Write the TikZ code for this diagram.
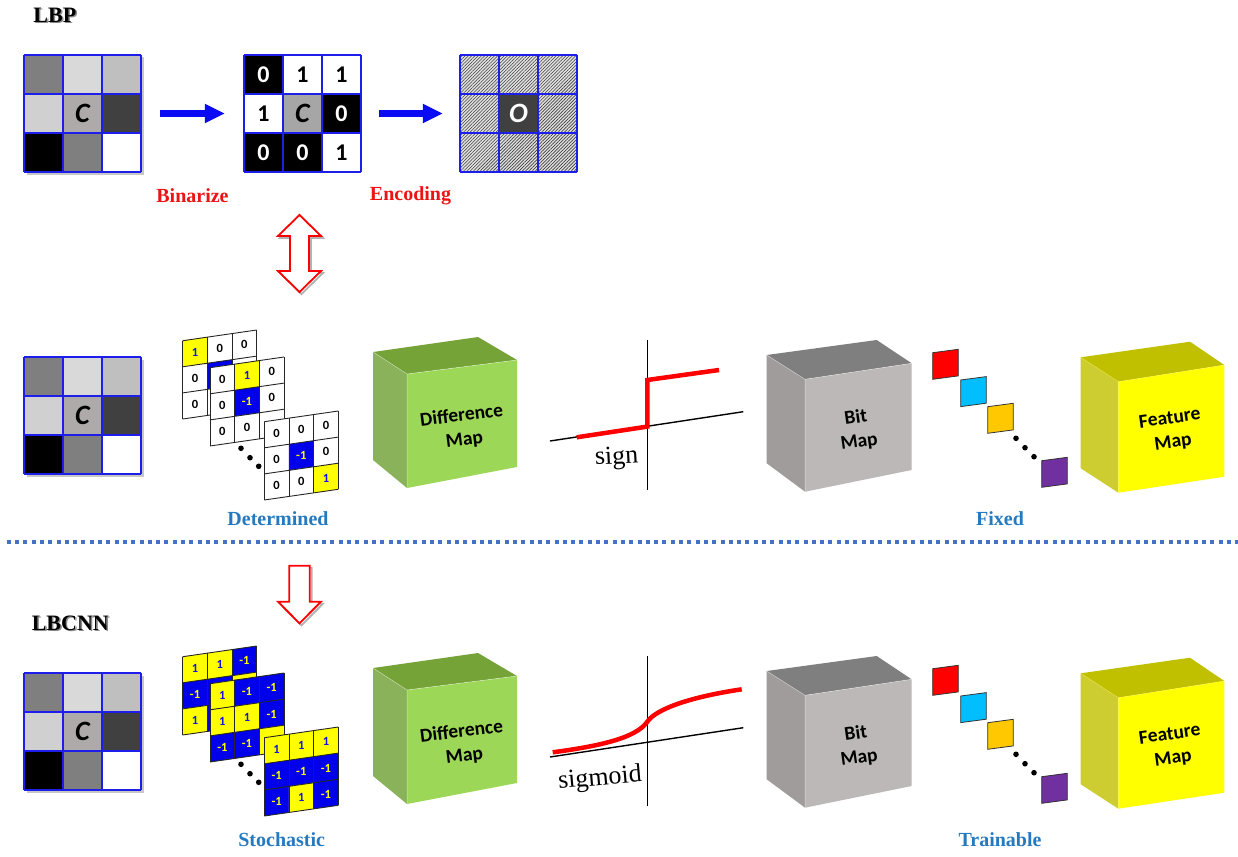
\documentclass[tikz,border=0pt]{standalone}
\usepackage{fontspec}
\setmainfont{Liberation Serif}
\newfontfamily\calfont{Carlito}
\usetikzlibrary{arrows.meta,patterns.meta}

% grey levels of the 3x3 input patch
\definecolor{ga}{RGB}{127,127,127}
\definecolor{gb}{RGB}{217,217,217}
\definecolor{gc}{RGB}{191,191,191}
\definecolor{gd}{RGB}{208,208,208}
\definecolor{ge}{RGB}{174,170,170}
\definecolor{gf}{RGB}{64,64,64}
\definecolor{gg}{RGB}{0,0,0}
\definecolor{gh}{RGB}{127,127,127}
\definecolor{gi}{RGB}{255,255,255}
\definecolor{gridblue}{RGB}{30,30,235}
\definecolor{arrowblue}{RGB}{10,10,245}
\definecolor{lblblue}{RGB}{37,121,191}
\definecolor{lblred}{RGB}{235,20,20}
\definecolor{dotblue}{RGB}{68,114,196}
% filter cells: z = 0, p = +1, m = -1
\definecolor{fcz}{RGB}{255,255,255}
\definecolor{fcp}{RGB}{255,255,0}
\definecolor{fcm}{RGB}{0,0,235}
\definecolor{tcz}{RGB}{0,0,0}
\definecolor{tcp}{RGB}{20,20,220}
\definecolor{tcm}{RGB}{255,255,0}
% cube faces
\definecolor{dfront}{RGB}{156,215,87}
\definecolor{dtop}{RGB}{118,163,55}
\definecolor{dside}{RGB}{137,178,90}
\definecolor{bfront}{RGB}{188,184,183}
\definecolor{btop}{RGB}{127,127,127}
\definecolor{bside}{RGB}{160,156,155}
\definecolor{ffront}{RGB}{255,255,0}
\definecolor{ftop}{RGB}{192,192,0}
\definecolor{fside}{RGB}{205,205,50}
\definecolor{sqred}{RGB}{255,0,0}
\definecolor{sqcyan}{RGB}{0,190,255}
\definecolor{sqorange}{RGB}{255,200,0}
\definecolor{sqpurple}{RGB}{112,48,160}

% 3x3 grey input patch with centre pixel C
\newcommand{\inputgrid}[3]{%
  \fill[black!22] (#2+2.5,#3+2.5) rectangle ++(117,117);
  \foreach \i/\j/\f in {0/0/ga,1/0/gb,2/0/gc,0/1/gd,1/1/ge,2/1/gf,0/2/gg,1/2/gh,2/2/gi}
    \fill[fill=\f] (#2+39*\i,#3+39*\j) rectangle ++(39,39);
  \foreach \q in {0,1,2,3} {
    \draw[gridline] (#2+39*\q,#3) -- ++(0,117);
    \draw[gridline] (#2,#3+39*\q) -- ++(117,0);}
  \node[cellc] at (#2+58.5,#3+58.5) {C};
  \node[patch] (#1) at (#2+58.5,#3+58.5) {};
}

% slanted 3x3 filter; entries are col/row/kind/text (empty text for hidden cells)
\newcommand{\filtergrid}[3]{%
  \begin{scope}[shift={#1}, yslant=0.1446]
    \foreach \i/\j/\k/\t in {#3} {
      \fill[fill=fc\k] (\i*24.67,\j*26.1) rectangle ++(24.67,26.1);
      \node[celln, text=tc\k] at (\i*24.67+12.33,\j*26.1+13.05) {\t};
    }
    \foreach \q in {0,1,2,3} {
      \draw[flt] (\q*24.67,0) -- ++(0,78.3);
      \draw[flt] (0,\q*26.1) -- ++(74,0);}
    \coordinate (#2) at (37,39.15);
  \end{scope}}

% one row of the pipeline: input, filters, difference map, activation axes,
% bit map, weights and feature map
\newcommand{\pipeline}[4]{%
  \inputgrid{#1in}{24}{357}
  \filtergrid{(182.7,340.7)}{#1fa}{#2}
  \filtergrid{(210,367.7)}{#1fb}{#3}
  \filtergrid{(264.3,421.7)}{#1fc}{#4}
  \foreach \x/\y in {241/448.3, 250/457.7, 258.7/466.3}
    \fill (\x,\y) circle[radius=2.8pt];
  % difference map
  \fill[dside]  (373,352) -- (407,374) -- (407,488) -- (373,460) -- cycle;
  \fill[dtop]   (373,352) -- (478,337) -- (517,360) -- (407,374) -- cycle;
  \fill[dfront] (407,374) -- (517,360) -- (517,467) -- (407,488) -- cycle;
  \draw[edge] (373,352) -- (407,374) -- (517,360) (407,374) -- (407,488);
  \node[cubetxt, rotate=7] (#1diff) at (463,428) {Difference\\Map};
  % activation axes
  \coordinate (#1vt) at (647.3,340);
  \coordinate (#1vb) at (647.3,490);
  \coordinate (#1hl) at (550,441);
  \coordinate (#1hr) at (743.3,411.7);
  \draw[axis] (#1vt) -- (#1vb);
  \draw[axis] (#1hl) -- (#1hr);
  % bit map
  \fill[bside]  (766.7,355) -- (805,379.3) -- (805,491.7) -- (766.7,463.3) -- cycle;
  \fill[btop]   (766.7,355) -- (876.7,340) -- (911.7,363.3) -- (805,379.3) -- cycle;
  \fill[bfront] (805,379.3) -- (911.7,363.3) -- (911.7,470) -- (805,491.7) -- cycle;
  \draw[edge] (766.7,355) -- (805,379.3) -- (911.7,363.3) (805,379.3) -- (805,491.7);
  \node[cubetxt, rotate=8] (#1bit) at (857.5,430) {Bit\\Map};
  % weights
  \foreach \x/\y/\c in {932.7/352.7/sqred, 960.7/380/sqcyan, 987.7/406.7/sqorange, 1041.7/460.7/sqpurple}
    \filldraw[fill=\c, draw=black!80, line width=0.8pt]
      (\x,\y) -- ++(25.6,-3.4) -- ++(0,26.6) -- ++(-25.6,3.4) -- cycle;
  \foreach \x/\y in {1016/438.3, 1025/447.7, 1034/456.7}
    \fill (\x,\y) circle[radius=2.8pt];
  % feature map
  \fill[fside]  (1080.7,357.3) -- (1118.3,381.7) -- (1118.3,492.7) -- (1080.7,468.3) -- cycle;
  \fill[ftop]   (1080.7,357.3) -- (1190,341.7) -- (1224.3,365) -- (1118.3,381.7) -- cycle;
  \fill[ffront] (1118.3,381.7) -- (1224.3,365) -- (1224.3,476.7) -- (1118.3,492.7) -- cycle;
  \draw[edge, draw=yellow!60!white] (1080.7,357.3) -- (1118.3,381.7) -- (1224.3,365) (1118.3,381.7) -- (1118.3,492.7);
  \node[cubetxt, rotate=8] (#1feat) at (1171.5,431) {Feature\\Map};
}

\begin{document}
\begin{tikzpicture}[x=1pt,y=-1pt,
  cellt/.style={font=\calfont\bfseries\fontsize{24}{24}\selectfont, inner sep=0},
  cellc/.style={font=\calfont\bfseries\itshape\fontsize{28}{28}\selectfont, inner sep=0},
  celln/.style={font=\calfont\bfseries\fontsize{12.5}{12.5}\selectfont, inner sep=0},
  patch/.style={inner sep=0, minimum size=117pt},
  flt/.style={draw=black!85, line width=0.9pt},
  gridline/.style={draw=gridblue, line width=1.1pt},
  edge/.style={draw=white, line width=0.5pt, opacity=0.5},
  redlbl/.style={text=lblred, font=\bfseries\fontsize{20}{20}\selectfont, inner sep=0},
  bluelbl/.style={text=lblblue, font=\bfseries\fontsize{20}{20}\selectfont, inner sep=0},
  cubetxt/.style={font=\calfont\bfseries\fontsize{19.5}{24}\selectfont, align=center, inner sep=0},
  titletxt/.style={font=\bfseries\fontsize{22}{22}\selectfont, inner sep=0},
  fnlbl/.style={font=\fontsize{26}{26}\selectfont, inner sep=0},
  bigarrow/.style={draw=arrowblue, line width=7pt, -{Triangle[length=20pt,width=18pt]}},
  hollowarrow/.style={draw=red, line width=1.8pt, fill=white, line join=miter},
  arrowshadow/.style={draw=black!30, line width=1.8pt, line join=miter},
  axis/.style={draw=black, line width=1.4pt},
  curve/.style={draw=red, line width=4.5pt}
]
\useasboundingbox (0,0) rectangle (1238,856);

% ---------------- LBP ----------------
\node[titletxt, text=black!45] at (56.3,16.5) {LBP};
\node[titletxt] (lbp) at (54.8,15) {LBP};

\inputgrid{g1}{24}{55}

% binarized neighbourhood
\foreach \i/\j/\f/\c/\t in {0/0/black/white/0, 1/0/white/black/1, 2/0/white/black/1,
                           0/1/white/black/1, 2/1/black/white/0,
                           0/2/black/white/0, 1/2/black/white/0, 2/2/white/black/1}
  {\fill[fill=\f] (244+39*\i,55+39*\j) rectangle ++(39,39);
   \node[cellt, text=\c] at (263.5+39*\i,74.5+39*\j) {\t};}
\fill[black!35] (283,94) rectangle ++(39,39);
\node[cellc] at (302.5,113.5) {C};
\foreach \q in {0,1,2,3} {
  \draw[gridline] (244+39*\q,55) -- ++(0,117);
  \draw[gridline] (244,55+39*\q) -- ++(117,0);}
\node[patch] (g2) at (302.5,113.5) {};

% encoded pattern
\fill[black!12] (460,55) rectangle ++(117,117);
\fill[pattern={Lines[angle=45,distance=2.3pt,line width=0.6pt]}, pattern color=black!75]
  (460,55) rectangle ++(117,117);
\fill[gf] (499,94) rectangle ++(39,39);
\node[cellc, text=white] at (518.5,113.5) {O};
\foreach \q in {0,1,2,3} {
  \draw[gridline] (460+39*\q,55) -- ++(0,117);
  \draw[gridline] (460,55+39*\q) -- ++(117,0);}
\node[patch] (g3) at (518.5,113.5) {};

\draw[bigarrow, shorten <=19pt, shorten >=19pt] (g1.east) -- (g2.west);
\draw[bigarrow, shorten <=18pt, shorten >=17pt] (g2.east) -- (g3.west);

\node[redlbl] (bin) at (192.5,196) {Binarize};
\node[redlbl] (enc) at (410.5,196) {Encoding};

% LBP <-> LBCNN correspondence
\coordinate (dbl) at (299.5,253.5);
\draw[arrowshadow, shift={(301.5,255.5)}]
  (0,-38.5) -- (21.5,-17.5) -- (9.5,-17.5) -- (9.5,17.5) -- (21.5,17.5) -- (0,38.5)
  -- (-21.5,17.5) -- (-9.5,17.5) -- (-9.5,-17.5) -- (-21.5,-17.5) -- cycle;
\draw[hollowarrow, shift={(dbl)}]
  (0,-38.5) -- (21.5,-17.5) -- (9.5,-17.5) -- (9.5,17.5) -- (21.5,17.5) -- (0,38.5)
  -- (-21.5,17.5) -- (-9.5,17.5) -- (-9.5,-17.5) -- (-21.5,-17.5) -- cycle;

% ---------------- LBP as a network ----------------
\pipeline{m}
  {0/0/p/1, 1/0/z/0, 2/0/z/0, 0/1/z/0, 1/1/m/{}, 2/1/z/{}, 0/2/z/0, 1/2/z/{}, 2/2/z/{}}
  {0/0/z/0, 1/0/p/1, 2/0/z/0, 0/1/z/0, 1/1/m/-1, 2/1/z/0, 0/2/z/0, 1/2/z/0, 2/2/z/{}}
  {0/0/z/0, 1/0/z/0, 2/0/z/0, 0/1/z/0, 1/1/m/-1, 2/1/z/0, 0/2/z/0, 1/2/z/0, 2/2/p/1}

\draw[curve, line join=miter] (576.7,437.3) -- (647.3,426.6) -- (647.3,380) -- (719,370);
\node[fnlbl, rotate=3] (sgn) at (616.7,458) {sign};

\node[bluelbl] (det) at (278,518.3) {Determined};
\node[bluelbl] (fix) at (1000,518.3) {Fixed};

% separator
\draw[dotblue, line width=4pt, dash pattern=on 4pt off 4.3pt] (6.7,542.3) -- (1238,542.3);

% LBP -> LBCNN
\coordinate (dn) at (299.5,594.5);
\draw[arrowshadow, shift={(301.5,596.5)}]
  (-10.3,-28.8) -- (10.3,-28.8) -- (10.3,7.2) -- (21.5,7.2) -- (0,28.8)
  -- (-21.5,7.2) -- (-10.3,7.2) -- cycle;
\draw[hollowarrow, shift={(dn)}]
  (-10.3,-28.8) -- (10.3,-28.8) -- (10.3,7.2) -- (21.5,7.2) -- (0,28.8)
  -- (-21.5,7.2) -- (-10.3,7.2) -- cycle;

% ---------------- LBCNN ----------------
\node[titletxt, text=black!45] at (71.8,624.8) {LBCNN};
\node[titletxt] (lbcnn) at (70.3,623.3) {LBCNN};

\begin{scope}[shift={(0,316)}]
\pipeline{b}
  {0/0/p/1, 1/0/p/1, 2/0/m/-1, 0/1/m/-1, 1/1/m/{}, 2/1/p/{}, 0/2/p/1, 1/2/m/{}, 2/2/p/{}}
  {0/0/p/1, 1/0/m/-1, 2/0/m/-1, 0/1/p/1, 1/1/p/1, 2/1/m/-1, 0/2/m/-1, 1/2/m/-1, 2/2/p/{}}
  {0/0/p/1, 1/0/p/1, 2/0/p/1, 0/1/m/-1, 1/1/m/-1, 2/1/m/-1, 0/2/m/-1, 1/2/p/1, 2/2/m/-1}
\end{scope}

\draw[curve] (552.7,752.3) .. controls (600,746) and (636,738) .. (647.3,721.7)
  .. controls (656,709) and (690,697) .. (741.7,689.3);
\node[fnlbl, rotate=5] (sgm) at (600,779) {sigmoid};

\node[bluelbl] (sto) at (281.7,840) {Stochastic};
\node[bluelbl] (trn) at (1000,840) {Trainable};
\end{tikzpicture}
\end{document}
